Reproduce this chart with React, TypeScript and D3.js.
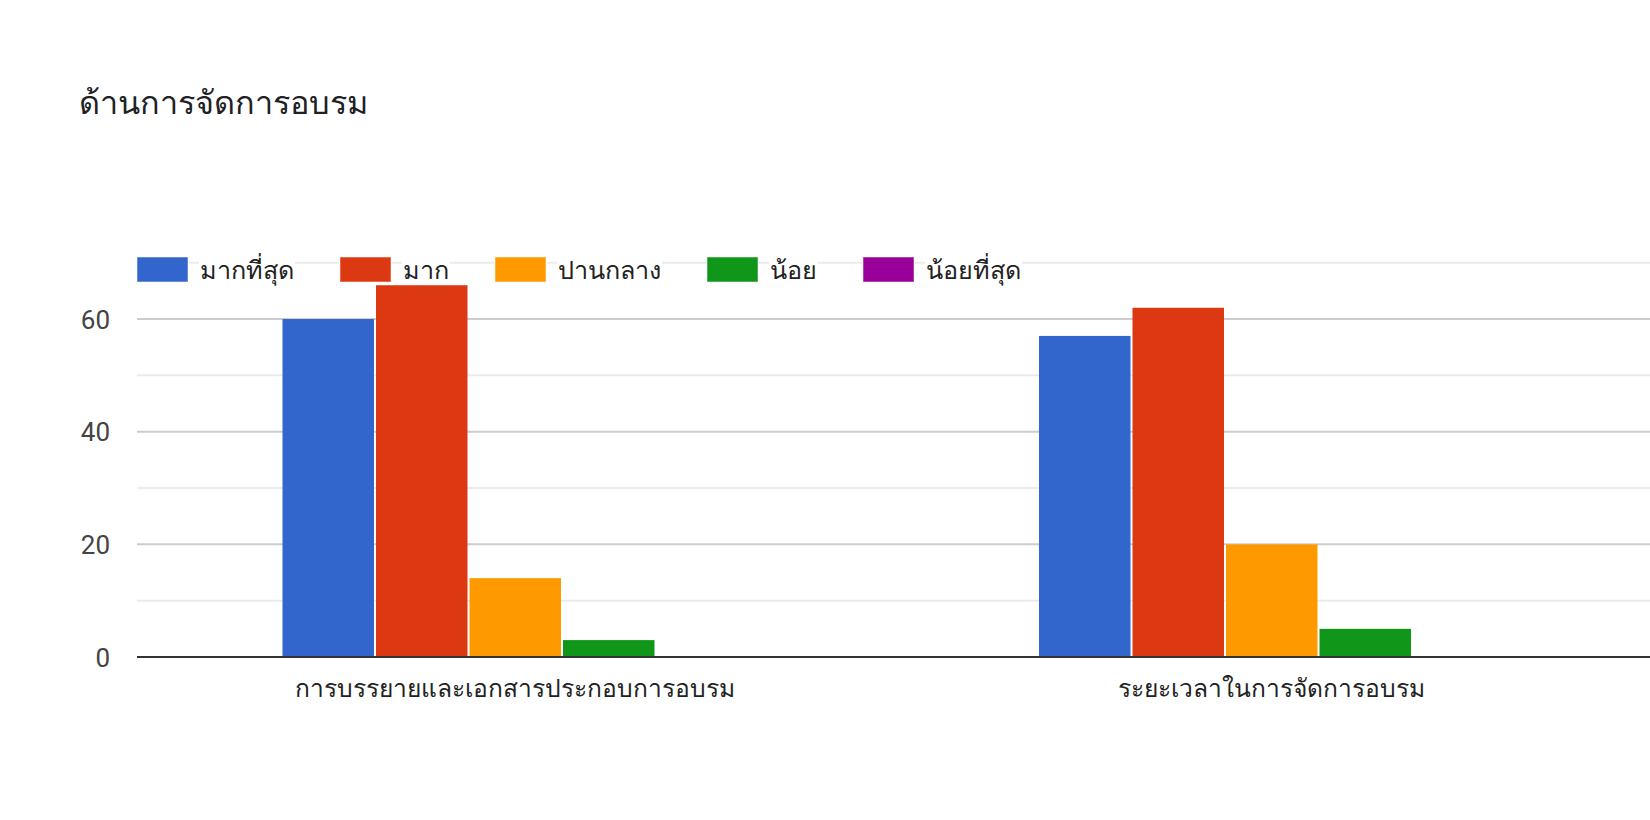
import React, { useEffect, useRef } from "react";
import * as d3 from "d3";

const title = "ด้านการจัดการอบรม";
const categories = ["การบรรยายและเอกสารประกอบการอบรม", "ระยะเวลาในการจัดการอบรม"];
const seriesNames = ["มากที่สุด", "มาก", "ปานกลาง", "น้อย", "น้อยที่สุด"];
const seriesColors = ["#3366cc", "#dc3912", "#ff9900", "#109618", "#990099"];
const valuesMost = [60, 57];
const valuesMuch = [66, 62];
const valuesMedium = [14, 20];
const valuesLittle = [3, 5];
const valuesLeast = [0, 0];
const majorTicks = [0, 20, 40, 60];
const minorTicks = [10, 30, 50, 70];

const W = 1650;
const H = 820;
const FONT = "Roboto, Arial, 'Noto Sans', sans-serif";

export default function App() {
  const ref = useRef<SVGSVGElement | null>(null);

  useEffect(() => {
    const svg = d3.select(ref.current);
    svg.selectAll("*").remove();

    const seriesValues = [valuesMost, valuesMuch, valuesMedium, valuesLittle, valuesLeast];
    const left = 137;
    const right = 1650;
    const y = d3.scaleLinear().domain([0, 70]).range([657, 262.7]);
    const x0 = d3.scaleBand<string>().domain(categories).range([left, right]).paddingInner(0.382).paddingOuter(0.191);
    const x1 = d3.scaleBand<string>().domain(seriesNames).range([0, x0.bandwidth()]);

    svg.append("rect").attr("width", W).attr("height", H).attr("fill", "#ffffff");

    svg.append("text")
      .attr("x", 79).attr("y", 114)
      .attr("font-family", FONT).attr("font-size", 32.4)
      .attr("fill", "#202124")
      .text(title);

    // gridlines
    const g = svg.append("g");
    minorTicks.forEach((t) => {
      g.append("line").attr("x1", left).attr("x2", right).attr("y1", y(t)).attr("y2", y(t))
        .attr("stroke", "#ebebeb").attr("stroke-width", 2);
    });
    majorTicks.filter((t) => t !== 0).forEach((t) => {
      g.append("line").attr("x1", left).attr("x2", right).attr("y1", y(t)).attr("y2", y(t))
        .attr("stroke", "#cccccc").attr("stroke-width", 2);
    });

    // y labels
    majorTicks.forEach((t) => {
      svg.append("text")
        .attr("x", 110).attr("y", y(t) + 9.5)
        .attr("text-anchor", "end")
        .attr("font-family", FONT).attr("font-size", 26)
        .attr("fill", "#444444")
        .text(String(t));
    });

    // legend
    const lg = svg.append("g");
    let lx = 137;
    seriesNames.forEach((name, i) => {
      lg.append("rect").attr("x", lx - 1).attr("y", 256).attr("width", 53).attr("height", 27).attr("fill", "#ffffff");
      lg.append("rect").attr("x", lx).attr("y", 257).attr("width", 51).attr("height", 25)
        .attr("fill", seriesColors[i]).attr("stroke", "#ffffff").attr("stroke-opacity", 0.5).attr("stroke-width", 1);
      const tx = lx + 63;
      const bg = lg.append("rect").attr("fill", "#ffffff");
      const t = lg.append("text")
        .attr("x", tx).attr("y", 279)
        .attr("font-family", FONT).attr("font-size", 25.2)
        .attr("fill", "#222222")
        .text(name);
      const w = (t.node() as SVGTextElement).getComputedTextLength();
      bg.attr("x", tx - 1).attr("y", 250).attr("width", w + 2).attr("height", 34);
      lx = tx + w + 46;
    });

    // bars
    categories.forEach((c, ci) => {
      seriesNames.forEach((s, si) => {
        const v = seriesValues[si][ci];
        if (v <= 0) return;
        const bx = (x0(c) as number) + (x1(s) as number);
        svg.append("rect")
          .attr("x", bx + 1).attr("y", y(v))
          .attr("width", x1.bandwidth() - 2).attr("height", y(0) - y(v))
          .attr("fill", seriesColors[si]);
      });
    });

    // baseline
    svg.append("line").attr("x1", left).attr("x2", right).attr("y1", y(0)).attr("y2", y(0))
      .attr("stroke", "#333333").attr("stroke-width", 2);

    // category labels
    categories.forEach((c) => {
      svg.append("text")
        .attr("x", (x0(c) as number) + x0.bandwidth() / 2).attr("y", 697)
        .attr("text-anchor", "middle")
        .attr("font-family", FONT).attr("font-size", 24.6)
        .attr("fill", "#222222")
        .text(c);
    });
  }, []);

  return (
    <svg ref={ref} width={W} height={H} style={{ position: "absolute", left: 0, top: 0, display: "block" }} />
  );
}
